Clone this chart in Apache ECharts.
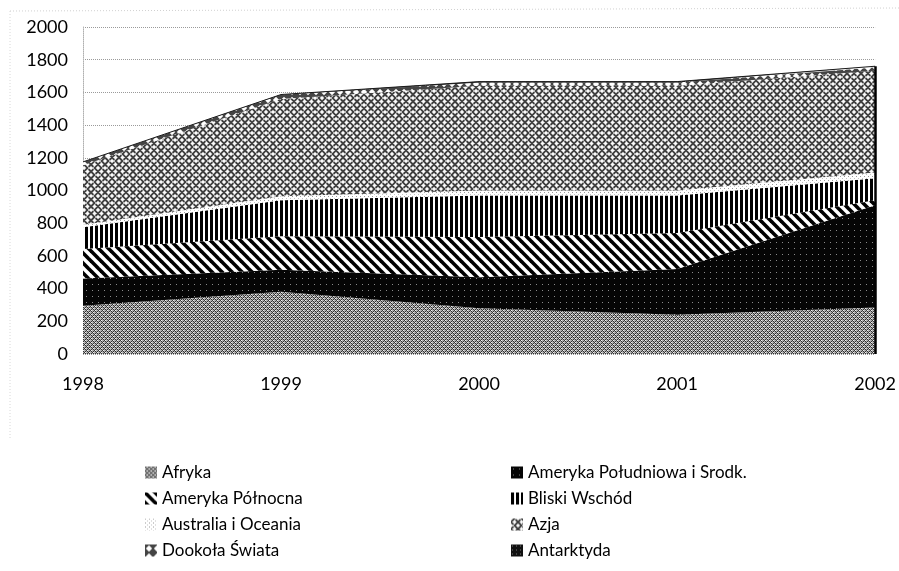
<!DOCTYPE html>
<html>
<head>
<meta charset="utf-8">
<script src="https://cdn.jsdelivr.net/npm/echarts@6/dist/echarts.min.js"></script>
<style>html,body{margin:0;padding:0;background:#fff}#c{width:899px;height:571px}</style>
</head>
<body>
<div id="c"></div>
<script>
// ---- data ----
const categories = ['1998', '1999', '2000', '2001', '2002'];
const yTicks = [0, 200, 400, 600, 800, 1000, 1200, 1400, 1600, 1800, 2000];
const seriesNames = ['Afryka', 'Ameryka Południowa i Srodk.', 'Ameryka Północna', 'Bliski Wschód',
  'Australia i Oceania', 'Azja', 'Dookoła Świata', 'Antarktyda'];
const afryka     = [295, 380, 280, 240, 285];
const amPoludn   = [167, 135, 190, 280, 625];
const amPolnoc   = [180, 205, 245, 220, 30];
const bliski     = [133, 220, 255, 230, 135];
const australia  = [15, 25, 30, 30, 35];
const azja       = [365, 595, 640, 640, 622];
const dookola    = [20, 25, 20, 20, 20];
const antarktyda = [0, 2, 6, 6, 8];
const legendLeft  = ['Afryka', 'Ameryka Północna', 'Australia i Oceania', 'Dookoła Świata'];
const legendRight = ['Ameryka Południowa i Srodk.', 'Bliski Wschód', 'Azja', 'Antarktyda'];

// ---- fill patterns ----
function tile(w, h, draw) {
  const c = document.createElement('canvas');
  c.width = w; c.height = h;
  const ctx = c.getContext('2d');
  draw(ctx, w, h);
  return { image: c, repeat: 'repeat' };
}
const pAfryka = tile(4, 4, (g) => {
  g.fillStyle = '#b0b0b0'; g.fillRect(0, 0, 4, 4);
  g.fillStyle = '#333';
  for (let x = 0; x < 4; x++) for (let y = 0; y < 4; y++)
    if ((x + y) % 4 === 0 || ((x - y) + 8) % 4 === 0) g.fillRect(x, y, 1, 1);
  g.fillStyle = '#f4f4f4'; g.fillRect(1, 0, 1, 1); g.fillRect(3, 2, 1, 1);
});
const pAmPoludn = tile(6, 6, (g) => {
  g.fillStyle = '#050505'; g.fillRect(0, 0, 6, 6);
  g.fillStyle = '#8a8a8a'; g.fillRect(2, 2, 1, 1);
});
const pAmPolnoc = tile(10, 10, (g) => {
  g.fillStyle = '#fff'; g.fillRect(0, 0, 10, 10);
  g.strokeStyle = '#000'; g.lineWidth = 3.6;
  for (const off of [-10, 0, 10]) {
    g.beginPath(); g.moveTo(off - 2, -2); g.lineTo(off + 12, 12); g.stroke();
  }
});
const pBliski = tile(5, 4, (g) => {
  g.fillStyle = '#fff'; g.fillRect(0, 0, 5, 4);
  g.fillStyle = '#000'; g.fillRect(0, 0, 3, 4);
});
const pAustralia = tile(4, 4, (g) => {
  g.fillStyle = '#fff'; g.fillRect(0, 0, 4, 4);
  g.fillStyle = '#9a9a9a'; g.fillRect(0, 0, 1, 1);
  g.fillStyle = '#c4c4c4'; g.fillRect(2, 2, 1, 1);
});
const pAzja = tile(14, 14, (g) => {
  const T = 14, s = T / Math.SQRT2 / 2;
  g.fillStyle = '#fafafa'; g.fillRect(0, 0, T, T);
  g.strokeStyle = '#404040'; g.lineWidth = 1.9; g.lineJoin = 'miter'; g.lineCap = 'square';
  for (let i = -3; i <= 3; i++) for (let j = -3; j <= 3; j++) {
    const px = i * T / 2 + j * T / 2, py = i * T / 2 - j * T / 2;
    g.save(); g.translate(px, py); g.rotate(Math.PI / 4);
    g.beginPath();
    g.moveTo(-s, -s * 0.5); g.lineTo(s * 0.5, -s * 0.5); g.lineTo(s * 0.5, s);
    g.moveTo(s, s * 0.5); g.lineTo(-s * 0.5, s * 0.5); g.lineTo(-s * 0.5, -s);
    g.stroke();
    g.restore();
  }
});
const pDookola = tile(8, 8, (g) => {
  g.fillStyle = '#444'; g.fillRect(0, 0, 8, 8);
  g.fillStyle = '#fff';
  g.beginPath(); g.moveTo(4, 0.8); g.lineTo(7.2, 4); g.lineTo(4, 7.2); g.lineTo(0.8, 4); g.closePath(); g.fill();
});
const pAntarktyda = tile(4, 4, (g) => {
  g.fillStyle = '#111'; g.fillRect(0, 0, 4, 4);
  g.fillStyle = '#777'; g.fillRect(1, 1, 1, 1);
});

const values = [afryka, amPoludn, amPolnoc, bliski, australia, azja, dookola, antarktyda];
const patterns = [pAfryka, pAmPoludn, pAmPolnoc, pBliski, pAustralia, pAzja, pDookola, pAntarktyda];
const lastIdx = categories.length - 1;
const lastTotal = values.reduce((a, arr) => a + arr[lastIdx], 0);

const FONT = 'Lato';
const TEXT = { fontFamily: FONT, fontSize: 18, color: '#000' };
const series = seriesNames.map((name, k) => {
  const s = {
    name: name,
    type: 'line',
    stack: 'total',
    data: values[k],
    symbol: 'none',
    showSymbol: false,
    silent: true,
    lineStyle: { width: k === 7 ? 1 : 0, color: '#1a1a1a' },
    itemStyle: { color: patterns[k] },
    areaStyle: { color: patterns[k], opacity: 1 },
    emphasis: { disabled: true },
    z: 2
  };
  if (k === 7) {
    s.markLine = {
      silent: true, symbol: ['none', 'none'], label: { show: false },
      lineStyle: { color: '#000', width: 2.5, type: 'solid' },
      animation: false,
      data: [[{ coord: [categories[lastIdx], 0] }, { coord: [categories[lastIdx], lastTotal] }]]
    };
  }
  return s;
});

const legendCommon = {
  orient: 'vertical',
  icon: 'rect',
  itemWidth: 12,
  itemHeight: 12,
  itemGap: 7,
  selectedMode: false,
  textStyle: Object.assign({}, TEXT, { fontSize: 17, lineHeight: 19 })
};

const chart = echarts.init(document.getElementById('c'), null, { renderer: 'canvas' });
chart.setOption({
  animation: false,
  backgroundColor: '#fff',
  grid: { left: 83, right: 22, top: 27, bottom: 217, containLabel: false },
  xAxis: {
    type: 'category',
    data: categories,
    boundaryGap: false,
    axisLine: { show: false },
    axisTick: { show: false },
    axisLabel: Object.assign({}, TEXT, { margin: 21 }),
    splitLine: { show: false }
  },
  yAxis: {
    type: 'value',
    min: yTicks[0],
    max: yTicks[yTicks.length - 1],
    interval: yTicks[1] - yTicks[0],
    axisLine: { show: true, lineStyle: { color: '#b0b0b0', type: 'dotted', width: 1 } },
    axisTick: { show: false },
    axisLabel: Object.assign({}, TEXT, { margin: 15, formatter: (v) => String(v) }),
    splitLine: { show: true, lineStyle: { color: '#9a9a9a', type: 'dotted', width: 1 } }
  },
  legend: [
    Object.assign({}, legendCommon, { left: 140, top: 458, data: legendLeft }),
    Object.assign({}, legendCommon, { left: 506, top: 458, data: legendRight })
  ],
  graphic: [
    { type: 'line', silent: true, shape: { x1: 10, y1: 11, x2: 899, y2: 8 },
      style: { stroke: '#d0d0d0', lineWidth: 1, lineDash: [1, 2] } },
    { type: 'line', silent: true, shape: { x1: 10, y1: 11, x2: 10, y2: 440 },
      style: { stroke: '#d8d8d8', lineWidth: 1, lineDash: [1, 2] } }
  ],
  series: series
});
</script>
</body>
</html>
